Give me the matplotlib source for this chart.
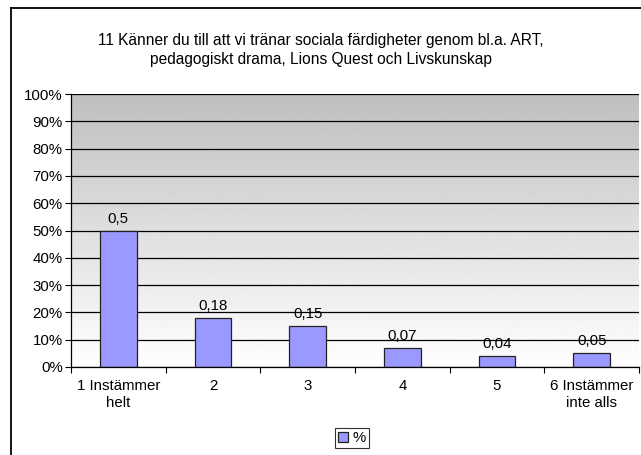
import numpy as np
import matplotlib
matplotlib.use('Agg')
import matplotlib.pyplot as plt
from matplotlib.lines import Line2D
from matplotlib.ticker import FixedLocator, FuncFormatter

plt.rcParams['font.family'] = ['Liberation Sans', 'DejaVu Sans']

title = ('11 Känner du till att vi tränar sociala färdigheter genom bl.a. ART,\n'
         'pedagogiskt drama, Lions Quest och Livskunskap')
categories = ['1 Instämmer\nhelt', '2', '3', '4', '5', '6 Instämmer\ninte alls']
values = [0.5, 0.18, 0.15, 0.07, 0.04, 0.05]
series_name = '%'

fs = 10.8

fig = plt.figure(figsize=(6.41, 4.55), dpi=100)
ax = fig.add_axes([71 / 641, 88 / 455, 568 / 641, 273 / 455])

x = np.arange(len(categories))
ax.set_xlim(-0.5, len(categories) - 0.5)
ax.set_ylim(0, 1)

# grey-to-white background of the plot area (white at the bottom)
grad = np.linspace(1.0, 0.75, 256).reshape(-1, 1)
ax.imshow(grad, cmap='gray', vmin=0, vmax=1, aspect='auto', origin='lower',
          extent=[-0.5, len(categories) - 0.5, 0, 1], zorder=0)

ax.set_yticks(np.arange(0, 1.01, 0.1))
ax.yaxis.set_major_formatter(FuncFormatter(lambda v, p: f'{v:.0%}'))
ax.grid(axis='y', color='black', linewidth=0.9, zorder=1)
ax.set_axisbelow(True)

bars = ax.bar(x, values, width=0.39, color='#9999FF', edgecolor='#222222',
              linewidth=0.9, zorder=2, label=series_name)
for xi, v in zip(x, values):
    ax.text(xi, v + 0.018, str(v).replace('.', ','), ha='center', va='bottom',
            fontsize=fs, zorder=3)

ax.set_xticks(x)
ax.set_xticklabels(categories, fontsize=fs, linespacing=1.2)
ax.xaxis.set_minor_locator(FixedLocator(np.arange(-0.5, len(categories), 1)))
ax.tick_params(axis='x', which='major', length=0, pad=9)
ax.tick_params(axis='x', which='minor', length=4, width=0.8, direction='out')
ax.tick_params(axis='y', length=4, width=0.8, direction='out', labelsize=fs, pad=2)

for side in ['top', 'right']:
    ax.spines[side].set_visible(False)
ax.spines['left'].set_linewidth(0.9)
ax.spines['bottom'].set_linewidth(0.9)

fig.text(0.5, 1 - 50 / 455, title, ha='center', va='center', fontsize=11.2,
         linespacing=1.4)

leg = fig.legend(handles=[bars], loc='center', bbox_to_anchor=(352 / 641, 1 - 438 / 455),
                 fontsize=fs, frameon=True, fancybox=False, handlelength=0.7,
                 handleheight=0.7, handletextpad=0.3, borderpad=0.2,
                 borderaxespad=0)
leg.get_frame().set_edgecolor('black')
leg.get_frame().set_linewidth(0.8)

# outer chart border (left and top edges)
fig.add_artist(Line2D([10.5 / 641, 10.5 / 641], [0, 1 - 8 / 455], color='black',
                      linewidth=1.3, transform=fig.transFigure))
fig.add_artist(Line2D([10.5 / 641, 1], [1 - 8 / 455, 1 - 8 / 455], color='black',
                      linewidth=1.3, transform=fig.transFigure))

fig.savefig('out.png', dpi=100)
